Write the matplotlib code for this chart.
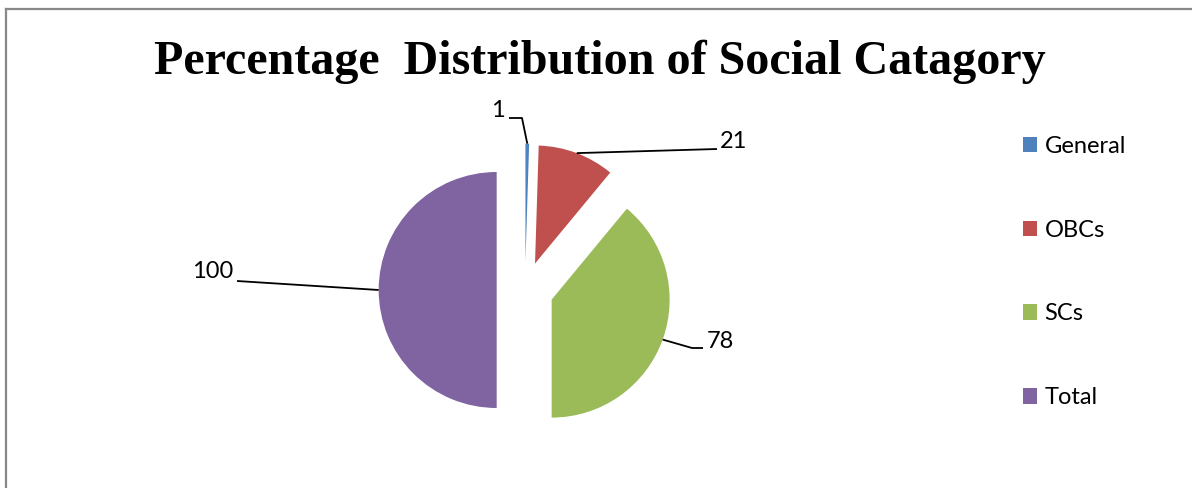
import numpy as np
import matplotlib
matplotlib.use("Agg")
import matplotlib.pyplot as plt
from matplotlib.patches import Patch
from matplotlib.lines import Line2D

categories = ["General", "OBCs", "SCs", "Total"]
values = [1, 21, 78, 100]
colors = ["#4F81BD", "#C0504D", "#9BBB59", "#8064A2"]

W, H = 1192, 488
R_PX = 118.0          # pie radius in pixels
CX, CY = 525.0, 290.0  # pie centre in pixels (from top-left)
EXPLODE = 0.24


def px(x, y):
    """pixel position (top-left origin) -> data coords with radius 1"""
    return (x - CX) / R_PX, (CY - y) / R_PX


fig = plt.figure(figsize=(W / 100, H / 100), dpi=100)
ax = fig.add_axes([0, 0, 1, 1])

wedges, _ = ax.pie(values, colors=colors, startangle=90, counterclock=False,
                   radius=1, explode=[EXPLODE] * len(values),
                   wedgeprops=dict(linewidth=0))
ax.set_xlim(*sorted([px(0, 0)[0], px(W, 0)[0]]))
ax.set_ylim(px(0, H)[1], px(0, 0)[1])
ax.set_aspect("equal")
ax.axis("off")

# data labels with leader lines: (knee, line end, text pos, ha) in pixels
label_layout = [
    ((522, 118), (509, 118), (505, 111), "right"),
    (None, (717, 149), (720, 142), "left"),
    ((692, 348), (703, 348), (707, 341), "left"),
    (None, (237, 281), (233, 272), "right"),
]
lab_font = dict(family=["Lato", "DejaVu Sans"], fontsize=17, color="black")
for w, v, (knee, end, tpos, ha) in zip(wedges, values, label_layout):
    mid = np.deg2rad((w.theta1 + w.theta2) / 2)
    cx, cy = w.center
    anchor = (cx + w.r * np.cos(mid), cy + w.r * np.sin(mid))
    pts = [anchor]
    if knee is not None:
        pts.append(px(*knee))
    pts.append(px(*end))
    xs, ys = zip(*pts)
    ax.plot(xs, ys, color="black", lw=1.3, solid_capstyle="butt")
    tx, ty = px(*tpos)
    ax.text(tx, ty, str(v), ha=ha, va="center", **lab_font)

# legend
handles = [Patch(facecolor=c, edgecolor="none") for c in colors]
fig.legend(handles, categories, loc="upper left", bbox_to_anchor=(1011 / W, 1 - 124 / H),
           frameon=False, prop=dict(family="Lato", size=17),
           handlelength=0.62, handleheight=0.62, handletextpad=0.3,
           labelspacing=2.66, borderpad=0)

fig.text(600 / W, 1 - 73.5 / H, "Percentage  Distribution of Social Catagory",
         ha="center", va="baseline", family="Liberation Serif", weight="bold",
         fontsize=34.6)

# chart area border
border = dict(color="#888888", lw=1.6, transform=fig.transFigure)
fig.add_artist(Line2D([6 / W, 1], [1 - 9 / H, 1 - 9 / H], **border))
fig.add_artist(Line2D([6 / W, 6 / W], [0, 1 - 9 / H], **border))

fig.savefig("out.png", dpi=100)
